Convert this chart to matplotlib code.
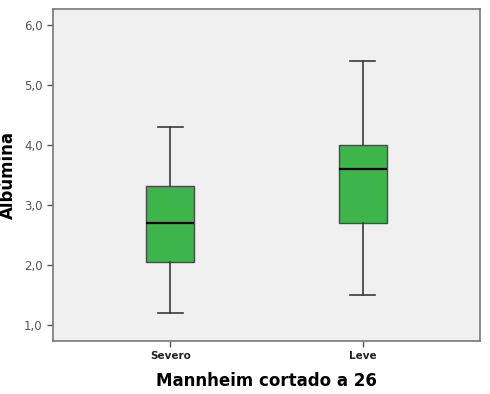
import matplotlib.pyplot as plt

# values
groups = ["Severo", "Leve"]
whislo = [1.2, 1.5]
q1 = [2.05, 2.7]
med = [2.7, 3.6]
q3 = [3.32, 4.0]
whishi = [4.3, 5.4]
yticks = [1.0, 2.0, 3.0, 4.0, 5.0, 6.0]

stats = [dict(label=g, whislo=a, q1=b, med=c, q3=d, whishi=e)
         for g, a, b, c, d, e in zip(groups, whislo, q1, med, q3, whishi)]

fig = plt.figure(figsize=(4.9, 3.94), dpi=100)
ax = fig.add_axes([0.108, 0.135, 0.872, 0.842])
ax.set_facecolor("#f0f0f0")

ax.bxp(stats, positions=[1, 2], widths=0.25, showfliers=False, patch_artist=True,
       capwidths=0.13,
       boxprops=dict(facecolor="#3db54a", edgecolor="#4a4a4a", lw=1.0),
       medianprops=dict(color="black", lw=1.6),
       whiskerprops=dict(color="#3a3a3a", lw=1.2),
       capprops=dict(color="#3a3a3a", lw=1.2))

ax.set_xlim(0.39, 2.61)
ax.set_ylim(0.73, 6.27)
ax.set_yticks(yticks)
ax.set_yticklabels([f"{v:.1f}".replace(".", ",") for v in yticks], color="#555555", fontsize=8.5)
ax.set_xticks([1, 2])
ax.set_xticklabels(groups, fontsize=7.5, fontweight="bold", color="#222222")
ax.tick_params(axis="both", length=4, color="#555555", width=1)
for s in ax.spines.values():
    s.set_color("#777777")
    s.set_linewidth(1.2)

ax.set_ylabel("Albúmina", fontsize=12, fontweight="bold", labelpad=5)
ax.set_xlabel("Mannheim cortado a 26", fontsize=12, fontweight="bold", labelpad=8)

fig.savefig("out.png", dpi=100)
